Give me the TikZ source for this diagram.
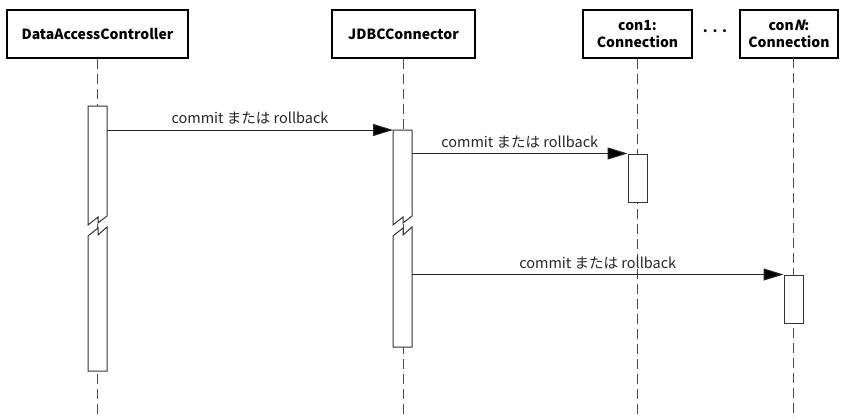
\documentclass[tikz,border=0pt]{standalone}
\usepackage{fontspec}
\setmainfont{Noto Sans CJK JP}
\newfontfamily\slantfont[FakeSlant=0.25]{Noto Sans CJK JP}
\usetikzlibrary{arrows.meta}
\tikzset{
  obj/.style={draw, line width=1.3pt, minimum height=48pt, inner sep=2pt, align=center, font=\bfseries\fontsize{14}{16.5}\selectfont},
  life/.style={gray!60!black, dash pattern=on 10pt off 5pt, line width=1pt},
  bar/.style={draw=gray!40!black, fill=white, line width=1pt},
  msg/.style={-{Triangle[length=20pt,width=12pt,fill=black]}, line width=1pt, gray!30!black},
  lbl/.style={font=\fontsize{14.5}{16}\selectfont, above=2pt}
}
\begin{document}
\begin{tikzpicture}[x=1pt,y=-1pt]
    \useasboundingbox (0,0) rectangle (841,418);

    \node[obj, minimum width=181pt] (dac) at (97.5,34) {DataAccessController};
    \node[obj, minimum width=143pt] (jdbc) at (403.5,34) {JDBCConnector};
    \node[obj, minimum width=109pt] (con1) at (637.5,34) {con1:\\Connection};
    \node[obj, minimum width=98pt] (conN) at (789,34) {con{\slantfont\bfseries N}:\\Connection};
    \node[font=\bfseries\fontsize{14}{14}\selectfont] (dots) at (715,31) {.\,\,.\,\,.};

    % lifelines
    \draw[life] (dac.south -| 97.5,0) -- (97.5,418);
    \draw[life] (jdbc.south) -- (403.5,418);
    \draw[life] (con1.south) -- (637.5,418);
    \draw[life] (793.5,58) -- (793.5,418);

    % activations (with break)
    \foreach \x/\top/\bot in {88/106/371, 393/130/347} {
      \filldraw[bar] (\x,225) -- (\x,\top) -- (\x+19,\top) -- (\x+19,216) -- (\x+10,223) -- (\x+10,217) -- cycle;
      \filldraw[bar] (\x,236) -- (\x+10,228) -- (\x+10,235) -- (\x+19,227) -- (\x+19,\bot) -- (\x,\bot) -- cycle;
    }
    \coordinate (dacR) at (107,0);
    \coordinate (jdbcL) at (393,0);
    \coordinate (jdbcR) at (412,0);
    \node[bar, minimum width=19pt, minimum height=48pt, inner sep=0pt] (con1bar) at (637.5,178) {};
    \node[bar, minimum width=19pt, minimum height=48pt, inner sep=0pt] (conNbar) at (793.5,299) {};

    \draw[msg] (dacR |- 0,130) -- node[lbl] {commit または rollback} (jdbcL |- 0,130);
    \draw[msg] (jdbcR |- con1bar.north) -- node[lbl] {commit または rollback} (con1bar.north west);
    \draw[msg] (jdbcR |- conNbar.north) -- node[lbl] {commit または rollback} (conNbar.north west);
\end{tikzpicture}
\end{document}
